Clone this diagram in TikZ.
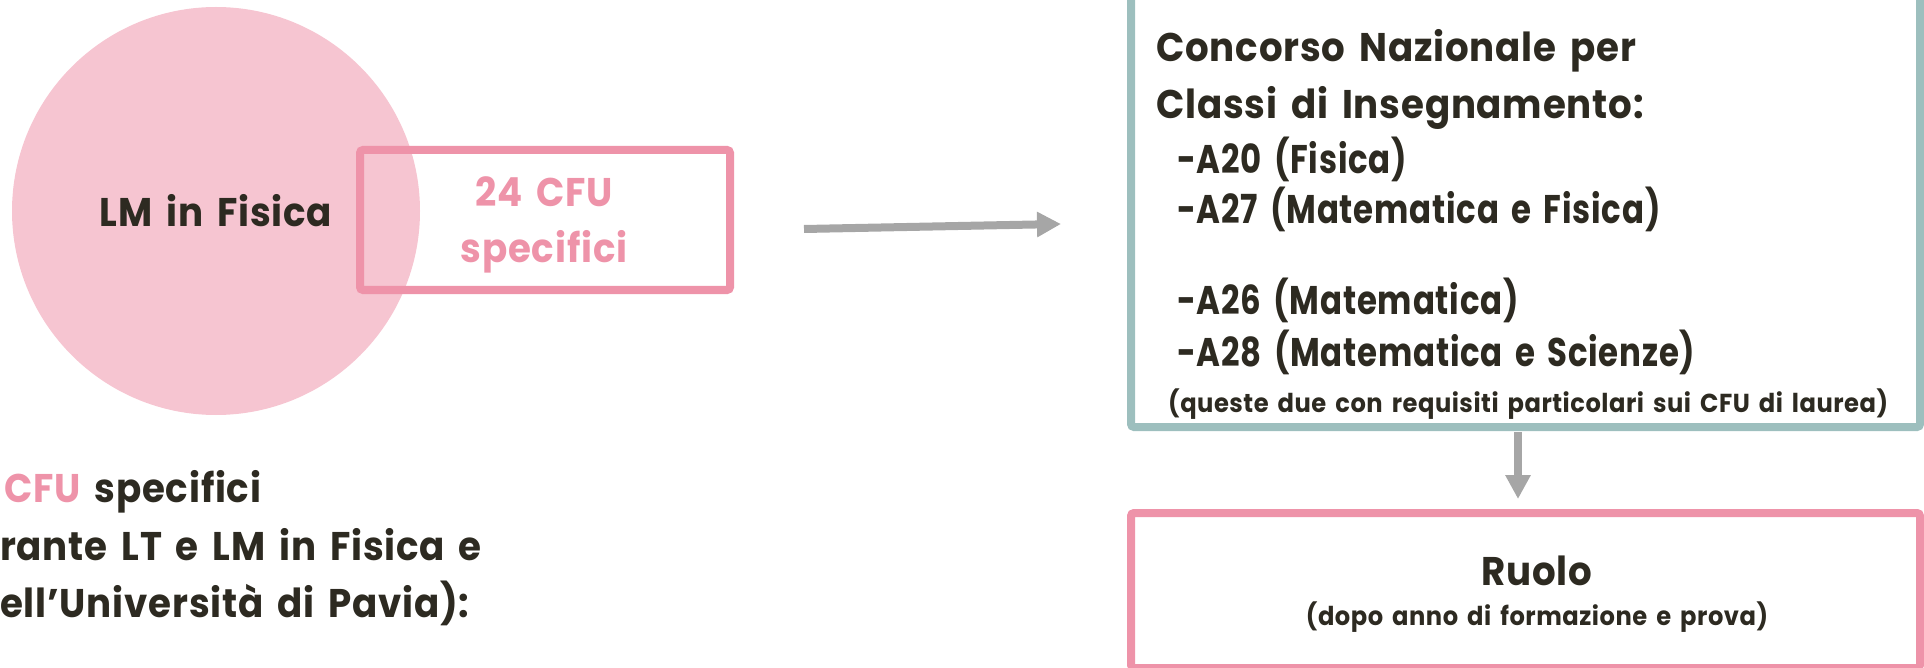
\documentclass[tikz,border=0pt]{standalone}
\usepackage{fontspec}
\setmainfont{Poppins}[FakeStretch=0.93, LetterSpace=2, WordSpace=1.6]
\newfontfamily\narrowfont{Poppins}[FakeStretch=0.81, LetterSpace=2, WordSpace=1.6]
\usetikzlibrary{arrows.meta}
\definecolor{ink}{HTML}{2D2A21}
\definecolor{rosa}{HTML}{EE93A9}
\definecolor{rosafill}{HTML}{F6C5D1}
\definecolor{tealline}{HTML}{9DBFBE}
\definecolor{arrowgray}{HTML}{A6A6A6}
\tikzset{
  bigtext/.style={font=\fontsize{40}{46}\selectfont\bfseries, text=ink, inner sep=0pt},
  classtext/.style={font=\narrowfont\fontsize{40}{46}\selectfont\bfseries, text=ink, inner sep=0pt},
  smalltext/.style={font=\fontsize{26}{30}\selectfont\bfseries, text=ink, inner sep=0pt},
  frame/.style={draw, line width=8pt, rounded corners=3pt, inner sep=0pt},
  flow/.style={draw=arrowgray, line width=8pt, -{Triangle[length=24pt,width=24pt]}},
}
\begin{document}
\begin{tikzpicture}[x=1pt,y=-1pt]
\useasboundingbox (0,0) rectangle (1924,668);

% degree circle with the overlapping credits box
\node[circle, fill=rosafill, minimum size=408pt, inner sep=0pt, bigtext] (lm) at (216,211) {LM in Fisica};
\node[frame, draw=rosa, minimum width=370pt, minimum height=140pt] (cfu) at (545,220) {};
\node[bigtext, text=rosa, anchor=base] (cfu1) at (544,207) {24 CFU};
\node[bigtext, text=rosa, anchor=base] (cfu2) at (544,262) {specifici};

% note below the circle
\node[bigtext, anchor=base west] (n1) at (4,502) {\textcolor{rosa}{CFU} specifici};
\node[bigtext, anchor=base west] (n2) at (0,560) {rante LT e LM in Fisica e};
\node[bigtext, anchor=base west] (n3) at (0,617) {ell’Università di Pavia):};

% competition box
\node[frame, draw=tealline, minimum width=789pt, minimum height=457pt] (conc) at (1525.5,198.5) {};
\node[bigtext, anchor=base west] (c1) at (1156,62) {Concorso Nazionale per};
\node[bigtext, anchor=base west] (c2) at (1156,119) {Classi di Insegnamento:};
\node[classtext, anchor=base west] (c3) at (1177,174) {-A20 (Fisica)};
\node[classtext, anchor=base west] (c4) at (1177,224) {-A27 (Matematica e Fisica)};
\node[classtext, anchor=base west] (c5) at (1177,314) {-A26 (Matematica)};
\node[classtext, anchor=base west] (c6) at (1177,366) {-A28 (Matematica e Scienze)};
\node[smalltext, anchor=base west] (c7) at (1168,412) {(queste due con requisiti particolari sui CFU di laurea)};

% final role box
\node[frame, draw=rosa, minimum width=789pt, minimum height=155pt] (ruolo) at (1525.5,590.5) {};
\node[bigtext, anchor=base] (r1) at (1537,585) {Ruolo};
\node[smalltext, anchor=base] (r2) at (1537,625) {(dopo anno di formazione e prova)};

% connectors
\coordinate (h1) at (804,229);
\coordinate (h2) at (1061,224);
\draw[flow] (h1) -- (h2);
\draw[flow] ([xshift=-7.5pt,yshift=-1pt]conc.south) -- ([xshift=-7.5pt,yshift=10pt]ruolo.north);
\end{tikzpicture}
\end{document}
